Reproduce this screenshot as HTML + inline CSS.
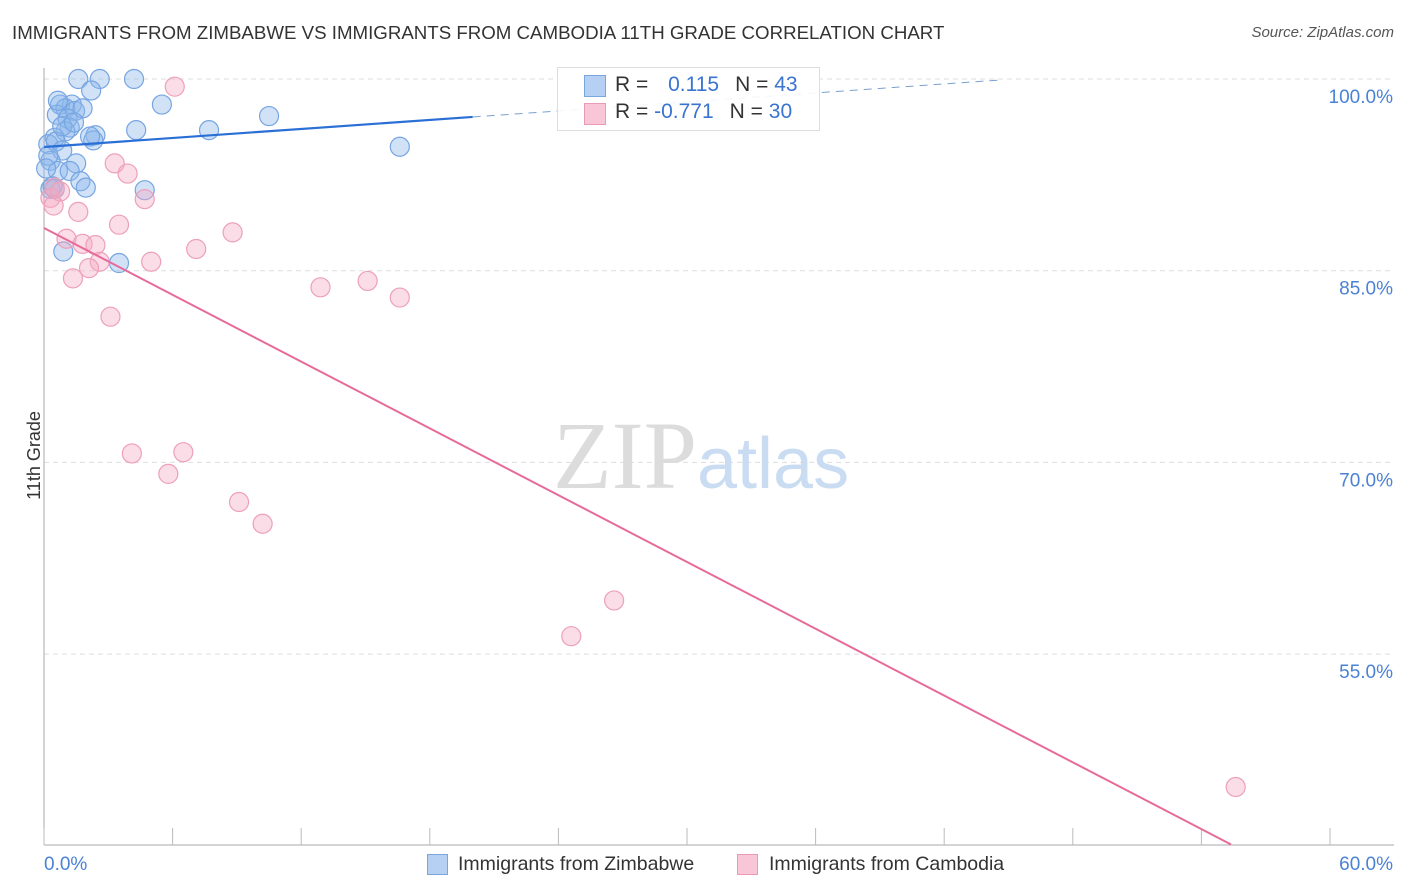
<!DOCTYPE html>
<html><head><meta charset="utf-8">
<style>
body{margin:0;background:#fff;font-family:"Liberation Sans",sans-serif;}
#wrap{position:relative;width:1406px;height:892px;overflow:hidden}
.t{position:absolute;white-space:nowrap}
</style></head><body>
<div id="wrap">
<div class="t" style="left:12px;top:22px;font-size:18.7px;color:#333">IMMIGRANTS FROM ZIMBABWE VS IMMIGRANTS FROM CAMBODIA 11TH GRADE CORRELATION CHART</div>
<div class="t" style="right:12px;top:24px;font-size:15px;color:#555;font-style:italic">Source: ZipAtlas.com</div>
<div class="t" style="left:-10px;top:445px;font-size:18px;color:#333;transform:rotate(-90deg)">11th Grade</div>
<svg id="svg" width="1406" height="892" style="position:absolute;left:0;top:0"></svg>
<div class="t" style="left:557px;top:67px;width:261px;height:62px;border:1px solid #ddd;background:rgba(255,255,255,0.9)"></div>
<div class="t" style="left:584px;top:75px;width:20px;height:20px;background:#b5d0f3;border:1px solid #7aa6e0"></div>
<div class="t" style="left:584px;top:103px;width:20px;height:20px;background:#f8c6d6;border:1px solid #eb9ab5"></div>
<div class="t" style="left:615px;top:73px;font-size:21px;color:#333">R = <span style="color:#3a74d0;margin-left:14px">0.115</span><span style="margin-left:16px">N = </span><span style="color:#3a74d0">43</span></div>
<div class="t" style="left:615px;top:100px;font-size:21px;color:#333">R = <span style="color:#3a74d0">-0.771</span><span style="margin-left:16px">N = </span><span style="color:#3a74d0">30</span></div>
<div class="t" style="left:427px;top:854px;width:19px;height:19px;background:#b5d0f3;border:1px solid #7aa6e0"></div>
<div class="t" style="left:458px;top:853px;font-size:19.5px;color:#333">Immigrants from Zimbabwe</div>
<div class="t" style="left:737px;top:854px;width:19px;height:19px;background:#f8c6d6;border:1px solid #eb9ab5"></div>
<div class="t" style="left:769px;top:853px;font-size:19.5px;color:#333">Immigrants from Cambodia</div>
<div class="t" style="left:553px;top:400px;font-size:96px;font-family:'Liberation Serif',serif;color:#dcdcdc">ZIP<span style="font-family:'Liberation Sans',sans-serif;color:#c9dcf2;font-size:72px">atlas</span></div>
</div>
<script>
const xTickLabels=["0.0%","60.0%"];
const yTicks=[100,85,70,55];
const blueX=[1.6,2.6,4.2,2.2,5.5,10.5,16.6,4.3,7.7,0.75,1.3,1.0,1.45,0.6,1.1,1.2,1.0,0.5,2.4,2.3,0.2,0.55,0.85,0.3,1.5,0.65,1.2,1.7,1.95,4.7,0.3,0.5,0.9,3.5,0.2,0.4,1.8,0.85,1.4,0.1,2.15,0.65];
const blueY=[100,100,100,99.1,98.0,97.1,94.7,96.0,96.0,98.0,98.0,97.7,97.5,97.2,96.9,96.2,95.9,95.4,95.6,95.2,94.9,95.1,94.4,93.6,93.4,92.8,92.8,92.0,91.5,91.3,91.4,91.4,86.5,85.6,94.0,91.6,97.7,96.3,96.6,93.0,95.5,98.3];
const pinkX=[6.1,3.3,3.9,4.7,1.6,8.8,7.1,5.0,2.6,2.1,1.35,1.05,1.8,2.4,3.5,12.9,15.1,16.6,3.1,4.1,6.5,5.8,9.1,10.2,26.6,24.6,55.6,0.5,0.3,0.75,0.45];
const pinkY=[99.4,93.4,92.6,90.6,89.6,88.0,86.7,85.7,85.7,85.2,84.4,87.5,87.1,87.0,88.6,83.7,84.2,82.9,81.4,70.7,70.8,69.1,66.9,65.2,59.2,56.4,44.6,91.5,90.7,91.2,90.1];
const blueFit=[94.68,0.1175];
const pinkFit=[88.34,-0.871];
const svg=document.getElementById('svg');const NS='http://www.w3.org/2000/svg';
const X=v=>44+v*(1286/60);const Y=v=>79+(100-v)*12.78;
function mk(t,a){const e=document.createElementNS(NS,t);for(const k in a)e.setAttribute(k,a[k]);svg.appendChild(e);return e;}
yTicks.forEach(v=>{const l=mk('line',{x1:44,x2:1394,y1:Y(v),y2:Y(v),stroke:'#ddd','stroke-dasharray':'5,4'});


const t=mk('text',{x:1393,y:Y(v)+24,'text-anchor':'end','font-size':19,fill:'#4a82d4','font-family':'Liberation Sans'});t.textContent=v.toFixed(1)+'%';

});
const ax=mk('line',{x1:44,x2:44,y1:68,y2:845,stroke:'#aaa'});


const bx=mk('line',{x1:44,x2:1394,y1:845,y2:845,stroke:'#aaa'});


for(let i=0;i<=10;i++){const l=mk('line',{x1:X(i*6),x2:X(i*6),y1:828,y2:845,stroke:'#bbb'});

}
[[0,'start'],[60,'end']].forEach((p,i)=>{const t=mk('text',{x:i?1393:44,y:870,'text-anchor':p[1],'font-size':19,fill:'#4a82d4','font-family':'Liberation Sans'});t.textContent=xTickLabels[i];

});
blueX.forEach((x,i)=>{const c=mk('circle',{cx:X(x),cy:Y(blueY[i]),r:9.5,fill:'rgba(140,182,235,0.4)',stroke:'#76a5e2','stroke-width':1.2});

});
pinkX.forEach((x,i)=>{const c=mk('circle',{cx:X(x),cy:Y(pinkY[i]),r:9.5,fill:'rgba(245,170,195,0.4)',stroke:'#eda0ba','stroke-width':1.2});

});
const f=(p,x)=>p[0]+p[1]*x;
let l1=mk('line',{x1:X(0),y1:Y(f(blueFit,0)),x2:X(20),y2:Y(f(blueFit,20)),stroke:'#2a6fd6','stroke-width':2.2});


let l2=mk('line',{x1:X(20),y1:Y(f(blueFit,20)),x2:X(44.6),y2:Y(f(blueFit,44.6)),stroke:'#7aa0d0','stroke-width':1,'stroke-dasharray':'8,6'});


const xe=(40.1-pinkFit[0])/pinkFit[1];
let l3=mk('line',{x1:X(0),y1:Y(f(pinkFit,0)),x2:X(xe),y2:Y(f(pinkFit,xe)),stroke:'#e66b9a','stroke-width':2});


</script>
</body></html>
